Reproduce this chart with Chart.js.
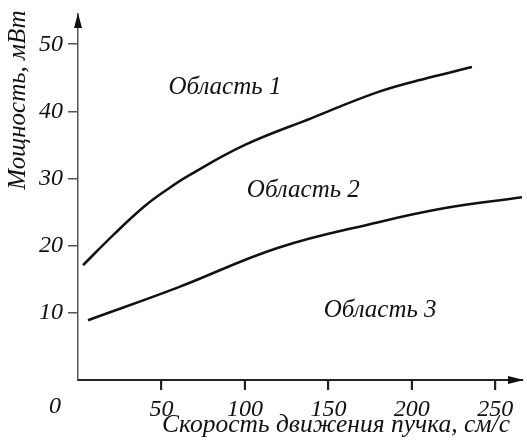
<!DOCTYPE html>
<html>
<head>
<meta charset="utf-8">
<script src="https://cdn.jsdelivr.net/npm/chart.js@4/dist/chart.umd.min.js"></script>
<style>
  body { margin: 0; background: #fff; }
  canvas { display: block; }
</style>
</head>
<body>
<canvas id="chart" width="527" height="442"></canvas>
<script>
// beam speed (cm/s) vs power (mW), two boundary curves
const upperSpeed = [3, 22, 40, 53, 66, 100, 140, 180, 210, 236];
const upperPower = [17.1, 21.8, 25.9, 28.3, 30.4, 35.0, 39.0, 42.9, 45.0, 46.6];
const lowerSpeed = [6, 60, 120, 180, 220, 266];
const lowerPower = [8.9, 13.8, 19.7, 23.5, 25.6, 27.2];

const xTicks = [50, 100, 150, 200, 250];
const yTicks = [10, 20, 30, 40, 50];

const regionNames = ['Область 1', 'Область 2', 'Область 3'];
const regionSpeed = [88, 135, 181];
const regionPower = [43.5, 28.3, 10.4];

const xTitle = 'Скорость движения пучка, см/с';
const yTitle = 'Мощность, мВт';

const serif = '"Liberation Serif", "Times New Roman", serif';

function toPoints(xs, ys) {
  return xs.map((x, i) => ({ x: x, y: ys[i] }));
}

const extras = {
  id: 'extras',
  afterDraw(chart) {
    const ctx = chart.ctx;
    const x = chart.scales.x, y = chart.scales.y;
    const ox = x.getPixelForValue(0), oy = y.getPixelForValue(0);
    ctx.save();

    // tick marks under the x axis
    ctx.strokeStyle = '#222';
    ctx.lineWidth = 2;
    x.ticks.forEach(t => {
      const px = Math.round(x.getPixelForValue(t.value));
      ctx.beginPath();
      ctx.moveTo(px, oy);
      ctx.lineTo(px, oy + 10);
      ctx.stroke();
    });

    // arrow heads
    ctx.fillStyle = '#111';
    ctx.beginPath();
    ctx.moveTo(x.right + 2, oy);
    ctx.lineTo(x.right - 14, oy - 4);
    ctx.lineTo(x.right - 14, oy + 4);
    ctx.closePath();
    ctx.fill();
    ctx.beginPath();
    ctx.moveTo(ox, y.top - 1);
    ctx.lineTo(ox - 4, y.top + 14);
    ctx.lineTo(ox + 4, y.top + 14);
    ctx.closePath();
    ctx.fill();

    ctx.textBaseline = 'middle';
    ctx.textAlign = 'center';
    ctx.font = 'italic 24px ' + serif;
    ctx.fillText('0', ox - 23, oy + 27);
    ctx.font = 'italic 25px ' + serif;
    regionNames.forEach((name, i) => {
      ctx.fillText(name, x.getPixelForValue(regionSpeed[i]), y.getPixelForValue(regionPower[i]));
    });

    ctx.font = 'italic 25.5px ' + serif;
    ctx.fillText(xTitle, 336, 425);
    ctx.font = 'italic 25px ' + serif;
    ctx.translate(18, 100);
    ctx.rotate(-Math.PI / 2);
    ctx.fillText(yTitle, 0, 0);
    ctx.restore();
  }
};

const lineStyle = {
  borderColor: '#111',
  borderWidth: 2.5,
  pointRadius: 0,
  tension: 0.4
};

new Chart(document.getElementById('chart'), {
  type: 'line',
  data: {
    datasets: [
      Object.assign({ data: toPoints(upperSpeed, upperPower) }, lineStyle),
      Object.assign({ data: toPoints(lowerSpeed, lowerPower) }, lineStyle)
    ]
  },
  options: {
    responsive: false,
    animation: false,
    layout: { padding: { top: 14, right: 5, left: 0, bottom: 0 } },
    plugins: { legend: { display: false }, tooltip: { enabled: false } },
    scales: {
      x: {
        type: 'linear',
        min: 0,
        max: 266,
        afterFit: s => { s.height = 62; s.paddingLeft = 0; s.paddingRight = 0; },
        afterBuildTicks: s => { s.ticks = xTicks.map(v => ({ value: v })); },
        border: { color: '#222', width: 2 },
        grid: { drawOnChartArea: false, tickLength: 10, color: '#555', tickColor: '#555', tickWidth: 1.5 },
        ticks: {
          color: '#111',
          padding: 5,
          maxRotation: 0,
          font: { family: serif, style: 'italic', size: 24 }
        }
      },
      y: {
        min: 0,
        max: 54.5,
        afterFit: s => { s.width = 78; s.paddingTop = 0; s.paddingBottom = 0; },
        afterBuildTicks: s => { s.ticks = yTicks.map(v => ({ value: v })); },
        border: { color: '#555', width: 1.5 },
        grid: { drawOnChartArea: false, tickLength: 10, color: '#555', lineWidth: 1.5 },
        ticks: {
          color: '#111',
          padding: 5,
          font: { family: serif, style: 'italic', size: 24 }
        }
      }
    }
  },
  plugins: [extras]
});
</script>
</body>
</html>
